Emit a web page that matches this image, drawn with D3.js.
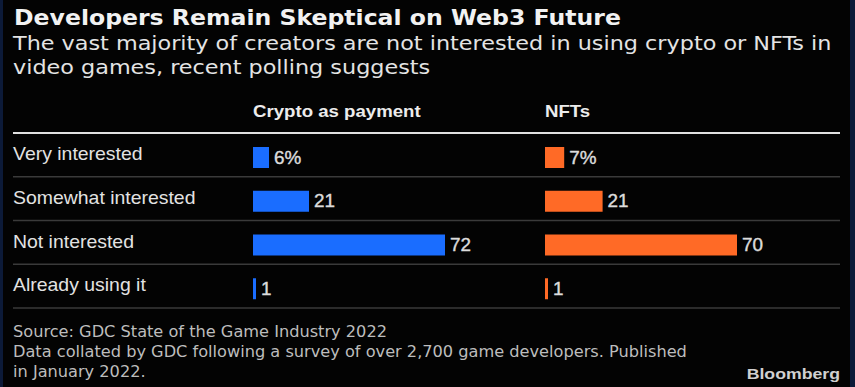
<!DOCTYPE html>
<html>
<head>
<meta charset="utf-8">
<script src="https://cdn.jsdelivr.net/npm/d3@7"></script>
<style>
  html, body { margin: 0; padding: 0; background: #000; }
  svg { display: block; }
</style>
</head>
<body>
<script>
// chart data
const categories = ['Very interested', 'Somewhat interested', 'Not interested', 'Already using it'];
const seriesNames = ['Crypto as payment', 'NFTs'];
const cryptoValues = [6, 21, 72, 1];
const nftValues = [7, 21, 70, 1];
const seriesColors = ['#1a6dff', '#ff6a26'];

const titleText = 'Developers Remain Skeptical on Web3 Future';
const subtitleLines = [
  'The vast majority of creators are not interested in using crypto or NFTs in',
  'video games, recent polling suggests'
];
const footerLines = [
  'Source: GDC State of the Game Industry 2022',
  'Data collated by GDC following a survey of over 2,700 game developers. Published',
  'in January 2022.'
];

const width = 855;
const height = 387;

const svg = d3.select('body')
  .append('svg')
    .attr('width', width)
    .attr('height', height);

/*
 * The source picture is a little wider than it is tall, so text is
 * drawn with a horizontal stretch around its anchor point.
 */
const place = (sel, xFn, yFn, sx) =>
  sel.attr('transform', (d, i) => {
    const px = typeof xFn === 'function' ? xFn(d, i) : xFn;
    const py = typeof yFn === 'function' ? yFn(d, i) : yFn;
    return `translate(${px},${py}) scale(${sx},1)`;
  });

// background and the faint navy frame
svg.append('rect')
    .attr('width', width)
    .attr('height', height)
    .attr('fill', '#030303');
svg.append('rect')
    .attr('x', 0).attr('y', 0)
    .attr('width', 3).attr('height', height)
    .attr('fill', '#0c1a38');
svg.append('rect')
    .attr('x', width - 5).attr('y', 0)
    .attr('width', 5).attr('height', height)
    .attr('fill', '#0c1a38');

// title + subtitle
svg.append('text')
    .call(place, 14, 25, 1.15)
    .attr('fill', '#f2f2f2')
    .style('font-family', '"DejaVu Sans", sans-serif')
    .style('font-weight', 'bold')
    .style('font-size', '20.5px')
    .text(titleText);

svg.selectAll('.subtitle')
  .data(subtitleLines)
  .enter()
  .append('text')
    .attr('class', 'subtitle')
    .call(place, 13, (d, i) => 50 + i * 24, 1.175)
    .attr('fill', '#e4e4e4')
    .style('font-family', '"DejaVu Sans", sans-serif')
    .style('font-size', '19px')
    .text(d => d);

// layout of the table
const tableLeft = 13;
const tableRight = 840;
const rowTop = 133;
const rowBottom = 308;
const panelX = [253, 545];
const barMaxWidth = 192;

const y = d3.scaleBand()
    .domain(categories)
    .range([rowTop, rowBottom]);

// column headers
svg.selectAll('.col-head')
  .data(seriesNames)
  .enter()
  .append('text')
    .attr('class', 'col-head')
    .call(place, (d, i) => panelX[i], 117, 1.165)
    .attr('fill', '#ececec')
    .style('font-family', '"Liberation Sans", Arial, sans-serif')
    .style('font-weight', 'bold')
    .style('font-size', '16px')
    .text(d => d);

// row separators
svg.selectAll('.sep')
  .data(categories)
  .enter()
  .append('line')
    .attr('class', 'sep')
    .attr('x1', tableLeft)
    .attr('x2', tableRight)
    .attr('y1', d => y(d) + y.bandwidth())
    .attr('y2', d => y(d) + y.bandwidth())
    .attr('stroke', '#3a3a3a')
    .attr('stroke-width', 1.5);

// header rule
svg.append('line')
    .attr('x1', tableLeft)
    .attr('x2', tableRight)
    .attr('y1', rowTop)
    .attr('y2', rowTop)
    .attr('stroke', '#e0e0e0')
    .attr('stroke-width', 2);

// row labels
svg.selectAll('.row-label')
  .data(categories)
  .enter()
  .append('text')
    .attr('class', 'row-label')
    .call(place, tableLeft, d => y(d) + 27, 1.08)
    .attr('fill', '#e2e2e2')
    .style('font-family', '"Liberation Sans", Arial, sans-serif')
    .style('font-size', '18px')
    .text(d => d);

// bars, one panel per series (each panel scaled to its own max)
[cryptoValues, nftValues].forEach((values, s) => {
  const x = d3.scaleLinear()
      .domain([0, d3.max(values)])
      .range([panelX[s], panelX[s] + barMaxWidth]);

  const rows = categories.map((c, i) => ({ cat: c, value: values[i], first: i === 0 }));
  const barW = d => Math.max(x(d.value) - x(0), 3);

  const g = svg.append('g');

  g.selectAll('rect')
    .data(rows)
    .enter()
    .append('rect')
      .attr('x', x(0))
      .attr('y', d => y(d.cat) + 14)
      .attr('width', barW)
      .attr('height', 21)
      .attr('fill', seriesColors[s]);

  g.selectAll('text')
    .data(rows)
    .enter()
    .append('text')
      .call(place, d => x(0) + barW(d) + 5, d => y(d.cat) + 30.5, 1.05)
      .attr('fill', '#dcdcdc')
      .attr('stroke', '#dcdcdc')
      .attr('stroke-width', 0.4)
      .style('font-family', '"Liberation Sans", Arial, sans-serif')
      .style('font-size', '18px')
      .text(d => d.first ? d.value + '%' : d.value);
});

// footer
svg.selectAll('.footer')
  .data(footerLines)
  .enter()
  .append('text')
    .attr('class', 'footer')
    .call(place, 13, (d, i) => 337 + i * 20, 1.2)
    .attr('fill', '#bdbdbd')
    .style('font-family', '"DejaVu Sans", sans-serif')
    .style('font-stretch', 'condensed')
    .style('font-size', '15px')
    .text(d => d);

svg.append('text')
    .call(place, 840, 379, 1.18)
    .attr('text-anchor', 'end')
    .attr('fill', '#d0d0d0')
    .style('font-family', '"Liberation Sans", Arial, sans-serif')
    .style('font-weight', 'bold')
    .style('font-size', '15px')
    .text('Bloomberg');
</script>
</body>
</html>
